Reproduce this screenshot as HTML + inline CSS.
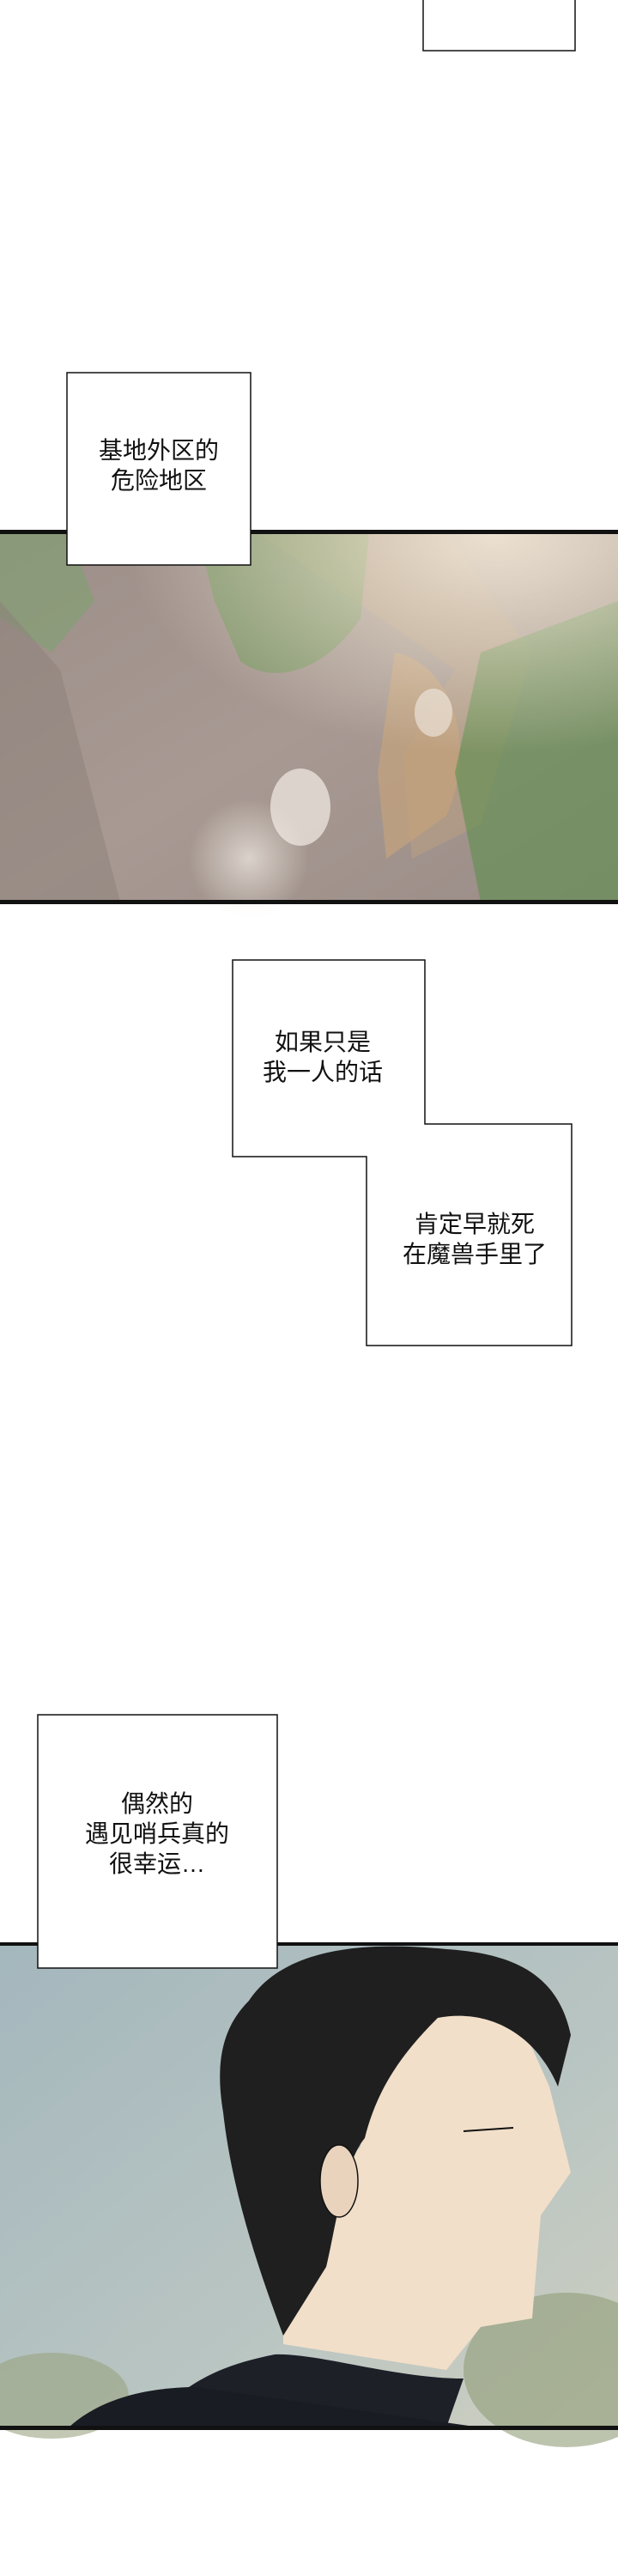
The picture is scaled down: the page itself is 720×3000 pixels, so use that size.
<!DOCTYPE html>
<html><head><meta charset="utf-8"><style>
html,body{margin:0;padding:0;background:#fff}
svg{display:block}
text{font-family:"Liberation Sans","Noto Sans CJK SC",sans-serif;font-size:28px;fill:#111;text-anchor:middle}
</style></head><body>
<svg width="720" height="3000" viewBox="0 0 720 3000" xmlns="http://www.w3.org/2000/svg">
<defs>
<linearGradient id="rock" x1="0" y1="0" x2="1" y2="1">
<stop offset="0" stop-color="#9c8e88"/><stop offset="0.5" stop-color="#a89a93"/><stop offset="1" stop-color="#9a8c86"/>
</linearGradient>
<radialGradient id="glow" cx="0.8" cy="0" r="0.6">
<stop offset="0" stop-color="#f4ead8" stop-opacity="0.9"/><stop offset="1" stop-color="#f4ead8" stop-opacity="0"/>
</radialGradient>
<linearGradient id="sky" x1="0" y1="0" x2="1" y2="1">
<stop offset="0" stop-color="#a4b7bd"/><stop offset="0.6" stop-color="#b9c5c2"/><stop offset="1" stop-color="#cfcfc0"/>
</linearGradient>
<radialGradient id="blob" cx="0.5" cy="0.5" r="0.5">
<stop offset="0" stop-color="#f1ebe4" stop-opacity="0.7"/><stop offset="1" stop-color="#f1ebe4" stop-opacity="0"/>
</radialGradient>
</defs>

<rect x="493" y="-2" width="177" height="61" fill="#fff" stroke="#111" stroke-width="1.5"/>

<rect x="0" y="621" width="720" height="429" fill="url(#rock)"/>
<path d="M300 621 L520 621 L620 760 L560 960 L480 1000 L470 880 L530 780 Z" fill="#b79f84" opacity="0.6"/>
<path d="M460 760 C520 770 560 860 520 950 L450 1000 L440 900 Z" fill="#c5a27c" opacity="0.7"/>
<path d="M230 621 L430 621 L420 720 C380 780 320 800 280 770 L250 700 Z" fill="#6e9a58" opacity="0.55"/>
<path d="M560 760 L720 700 L720 1050 L560 1050 L530 900 Z" fill="#5e8f4c" opacity="0.6"/>
<path d="M0 621 L80 621 L110 700 L60 760 L0 720 Z" fill="#78a46a" opacity="0.5"/>
<path d="M0 700 L70 780 L140 1050 L0 1050 Z" fill="#8c7f7a" opacity="0.5"/>
<rect x="0" y="621" width="720" height="429" fill="url(#glow)"/>
<circle cx="290" cy="1000" r="70" fill="url(#blob)"/>
<ellipse cx="350" cy="940" rx="35" ry="45" fill="#f3ede6" opacity="0.7"/>
<ellipse cx="505" cy="830" rx="22" ry="28" fill="#f1ebe4" opacity="0.6"/>
<rect x="0" y="617" width="720" height="5" fill="#111"/>
<rect x="0" y="1048" width="720" height="5" fill="#111"/>

<rect x="78" y="434" width="214" height="224" fill="#fff" stroke="#111" stroke-width="1.5"/>
<text x="185" y="534">基地外区的</text>
<text x="185" y="569">危险地区</text>

<path d="M271 1118 L495 1118 L495 1309 L666 1309 L666 1567 L427 1567 L427 1347 L271 1347 Z" fill="#fff" stroke="#111" stroke-width="1.5"/>
<text x="376" y="1223">如果只是</text>
<text x="376" y="1258">我一人的话</text>
<text x="553" y="1435">肯定早就死</text>
<text x="553" y="1470">在魔兽手里了</text>

<rect x="0" y="2264" width="720" height="563" fill="url(#sky)"/>
<ellipse cx="660" cy="2760" rx="120" ry="90" fill="#8f9c78" opacity="0.6"/>
<ellipse cx="60" cy="2790" rx="90" ry="50" fill="#9aa381" opacity="0.6"/>
<path d="M430 2350 L600 2340 L640 2430 L665 2530 L630 2580 L620 2700 L560 2710 L520 2760 L330 2730 L330 2600 L420 2500 Z" fill="#f1dfc9"/>
<path d="M290 2330 C330 2270 420 2260 520 2270 C600 2275 650 2300 665 2370 L650 2430 C620 2360 560 2340 510 2350 C470 2390 440 2430 425 2490 C400 2520 390 2600 380 2640 L330 2720 C300 2640 270 2550 260 2460 C250 2400 260 2360 290 2330 Z" fill="#1f1f1f"/>
<ellipse cx="395" cy="2540" rx="22" ry="42" fill="#ead3bd" stroke="#111" stroke-width="1.5"/>
<path d="M540 2482 L598 2478" stroke="#111" stroke-width="2"/>
<path d="M320 2742 C370 2740 460 2770 540 2770 L520 2827 L100 2827 C140 2800 180 2790 220 2780 C250 2760 280 2750 320 2742 Z" fill="#1e2028"/>
<path d="M80 2827 C120 2790 180 2780 230 2780 L560 2827 Z" fill="#1a1c24"/>
<rect x="0" y="2262" width="720" height="4" fill="#111"/>
<rect x="0" y="2825" width="720" height="5" fill="#111"/>

<rect x="44" y="1997" width="279" height="295" fill="#fff" stroke="#111" stroke-width="1.5"/>
<text x="183" y="2110">偶然的</text>
<text x="183" y="2145">遇见哨兵真的</text>
<text x="183" y="2180">很幸运…</text>
</svg>
</body></html>
